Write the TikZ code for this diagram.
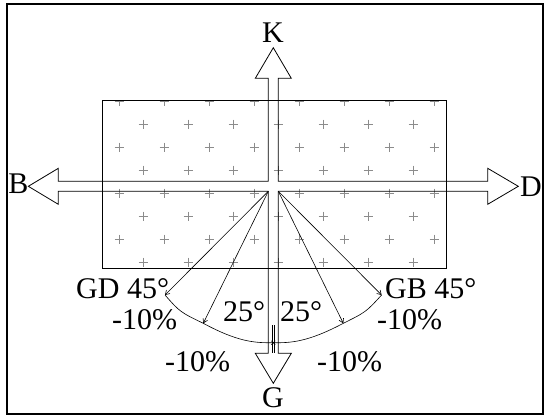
\documentclass[tikz,border=0pt]{standalone}
\usepackage{fontspec}
\setmainfont{Liberation Serif}
\usetikzlibrary{arrows.meta,calc}
\begin{document}
\begin{tikzpicture}[x=1pt,y=-1pt,
  lbl/.style={inner sep=0pt,font=\fontsize{30}{32}\selectfont},
  outline/.style={draw=black,line width=0.8pt,line join=miter},
  ray/.style={draw=black,line width=0.6pt,-{Straight Barb[length=4pt,width=5pt]}},
  crossmark/.style={draw=black!45,line width=0.6pt}]
\useasboundingbox (0,0) rectangle (544,416);
% frame
\draw[line width=2pt] (6.7,4) rectangle (542.8,414);
% grid rectangle with plus pattern
\coordinate (rtl) at (102.3,100);
\coordinate (rbr) at (446.7,268.3);
\begin{scope}
\clip (rtl) rectangle (rbr);
\foreach \r in {0,2,4,6}{
  \foreach \c in {0,...,7}{
    \draw[crossmark] ({119+45*\c-4.5},{101+23*\r}) -- ++(9,0) ({119+45*\c},{101+23*\r-4.5}) -- ++(0,9);
  }}
\foreach \r in {1,3,5,7}{
  \foreach \c in {0,...,7}{
    \draw[crossmark] ({98+45*\c-4.5},{101+23*\r}) -- ++(9,0) ({98+45*\c},{101+23*\r-4.5}) -- ++(0,9);
  }}
\end{scope}
\draw[line width=0.8pt] (rtl) rectangle (rbr);
% cross arrows outline
\def\cx{273.3}\def\cy{186.3}
\coordinate (ctr) at (\cx,\cy);
\coordinate (ll) at (\cx-5,\cy+5);
\coordinate (lr) at (\cx+5,\cy+5);
\draw[outline] (\cx-5,78.3) -- (\cx-18,78.3) -- (\cx,47.7) -- (\cx+18,78.3) -- (\cx+5,78.3)
  -- (\cx+5,\cy-5) -- (487.7,\cy-5) -- (487.7,\cy-18) -- (518.3,\cy) -- (487.7,\cy+18) -- (487.7,\cy+5)
  -- (\cx+5,\cy+5) -- (\cx+5,353.3) -- (\cx+18,353.3) -- (\cx,383.3) -- (\cx-18,353.3) -- (\cx-5,353.3)
  -- (\cx-5,\cy+5) -- (58.3,\cy+5) -- (58.3,\cy+18) -- (28.3,\cy) -- (58.3,\cy-18) -- (58.3,\cy-5)
  -- (\cx-5,\cy-5) -- cycle;
% rays
\coordinate (p1) at (165,295);
\coordinate (p2) at (203.3,323.3);
\coordinate (p3) at (273.3,342.7);
\coordinate (p4) at (343.3,323.3);
\coordinate (p5) at (381.6,295);
\draw[ray] (ll) -- (p1);
\draw[ray] (ll) -- (p2);
\draw[ray] (lr) -- (p4);
\draw[ray] (lr) -- (p5);
% arc
\draw[line width=0.6pt] (p1) .. controls (180,312) .. (p2) .. controls (238,342) and (255,343) .. (p3)
  .. controls (291,343) and (308,342) .. (p4) .. controls (366,312) .. (p5);
% small middle mark
\draw[line width=0.5pt] (\cx-1.3,325) -- (\cx-1.3,353.3) (\cx+1.3,325) -- (\cx+1.3,353.3);
\draw[line width=0.5pt] ($(p3)+(-2,-2)$) -- ($(p3)+(2,2)$) ($(p3)+(-2,2)$) -- ($(p3)+(2,-2)$);
% labels
\node[lbl,anchor=base] (K) at (273,42.3) {K};
\node[lbl,anchor=base] (B) at (18.3,193.3) {B};
\node[lbl,anchor=base] (D) at (531,196) {D};
\node[lbl,anchor=base] (G) at (273,407.3) {G};
\node[lbl,anchor=base west] (gd) at (76,298) {GD 45°};
\node[lbl,anchor=base west] (gb) at (385,298) {GB 45°};
\node[lbl,anchor=base west] (m1) at (112,329) {-10\%};
\node[lbl,anchor=base west] (m2) at (377,329) {-10\%};
\node[lbl,anchor=base west] (m3) at (165,371) {-10\%};
\node[lbl,anchor=base west] (m4) at (317,371) {-10\%};
\node[lbl,anchor=base west] (a1) at (223,321.7) {25°};
\node[lbl,anchor=base west] (a2) at (280,321.7) {25°};
\end{tikzpicture}
\end{document}
